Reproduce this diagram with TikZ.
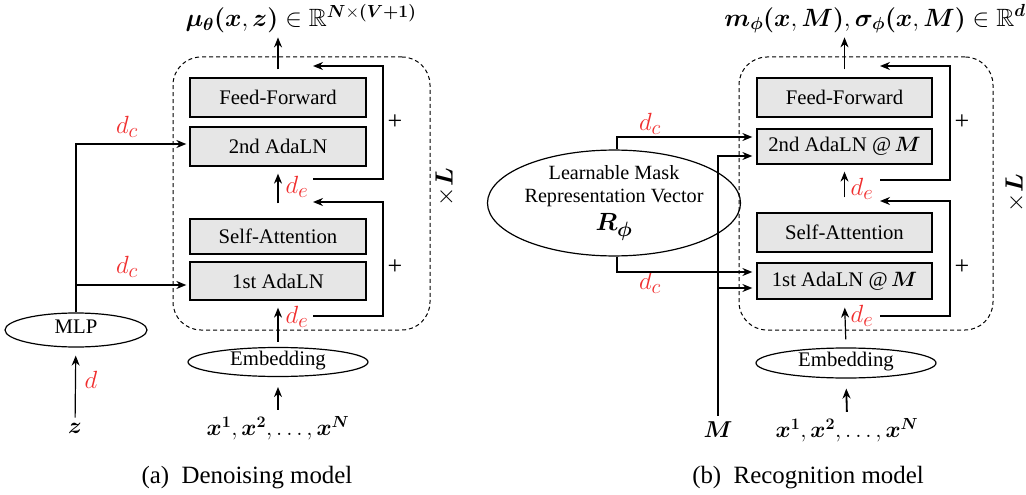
\RequirePackage{fix-cm}
\documentclass[tikz,border=0pt]{standalone}
\usepackage{amsmath,amssymb,bm}
\usepackage[no-math]{fontspec}
\setmainfont{Liberation Serif}
\usetikzlibrary{arrows.meta,shapes.geometric}
\definecolor{lblred}{RGB}{240,45,45}
\definecolor{boxgray}{RGB}{230,230,230}
\newcommand\fsA{\fontsize{20.74}{24}\selectfont}
\newcommand\fsC{\fontsize{24.88}{28}\selectfont}
\newcommand\fsM{\fontsize{23}{26}\selectfont}
\newcommand\fsR{\fontsize{24.88}{28}\selectfont}
\newcommand\fsT{\fontsize{25}{28}\selectfont}
\newcommand\xseq{$\bm{x}^{\bm{1}},\bm{x}^{\bm{2}},\ldots,\bm{x}^{\bm{N}}$}
\tikzset{
  blk/.style={draw, line width=1.3pt, fill=boxgray, inner sep=0pt, font=\fsA},
  ell/.style={draw, ellipse, line width=1.2pt, inner sep=0pt, text height=11pt, text depth=4pt, font=\fsA},
  loopbox/.style={draw, dashed, dash pattern=on 4pt off 3pt, line width=1pt, rounded corners=28pt, inner sep=0pt},
  arr/.style={-{Stealth[length=10pt,width=8pt]}, line width=1.2pt},
  txt/.style={font=\fsM, inner sep=2pt},
  ttl/.style={font=\fsT, inner sep=2pt},
  plus/.style={font=\fontsize{26}{28}\selectfont, inner sep=0pt},
  rlbl/.style={font=\fsR, text=lblred, inner sep=0pt},
  captxt/.style={font=\fsC, inner sep=0pt}
}
\begin{document}
\begin{tikzpicture}[x=1pt,y=-1pt]
\useasboundingbox (0,0) rectangle (1026,495);
% ================= (a) =================
\node[loopbox, minimum width=257, minimum height=273] (loopa) at (301.5,193.5) {};
\node[blk, minimum width=176, minimum height=39] (ffa) at (278,97.5) {Feed-Forward};
\node[blk, minimum width=176, minimum height=39] (ada2) at (278,146.5) {2nd AdaLN};
\node[blk, minimum width=176, minimum height=35] (saa) at (278,236.5) {Self-Attention};
\node[blk, minimum width=176, minimum height=38] (ada1) at (278,281) {1st AdaLN};
\node[ell, minimum width=180, minimum height=29] (emba) at (278,362) {Embedding};
\node[ell, minimum width=142, minimum height=34] (mlp) at (76,330) {MLP};
\node[txt] (za) at (75,428) {$\bm{z}$};
\node[txt] (xa) at (278,428) {\xseq};
\node[ttl] (outa) at (301,19) {$\bm{\mu}_{\bm{\theta}}\bm{(}\bm{x},\bm{z}\bm{)}\in\mathbb{R}^{\bm{N}\times\bm{(}\bm{V}\bm{+}\bm{1}\bm{)}}$};
\node[rlbl] (da) at (91,380) {$d$};
\node[rlbl] (dca2) at (127,127) {$d_c$};
\node[rlbl] (dca1) at (127,267) {$d_c$};
\node[rlbl] (dea2) at (297,187) {$d_e$};
\node[rlbl] (dea1) at (297,317) {$d_e$};
\node[plus] (pa2) at (395,122) {+};
\node[plus] (pa1) at (395,267) {+};
\node[txt, font=\fsR, rotate=90] (La) at (445,187) {$\times\bm{L}$};
\node[captxt] (capa) at (247,478) {(a)\enspace Denoising model};
\coordinate (ra1) at (313,179); \coordinate (ra1e) at (313,66);
\coordinate (ra2) at (313,316); \coordinate (ra2e) at (313,202);
\draw[arr, shorten <=3pt, shorten >=8pt] (za) -- (mlp);
\draw[arr, shorten >=3pt] (mlp.north) |- ([yshift=2.5pt]ada2.west);
\draw[arr, shorten >=3pt] ([yshift=-4pt]ada1.west -| mlp.north) -- ([yshift=-4pt]ada1.west);
\draw[arr, shorten <=15pt, shorten >=7pt] (saa.north) -- (ada2.south);
\draw[arr, shorten <=5pt, shorten >=7pt] (emba.north) -- (ada1.south);
\draw[arr, shorten <=8pt, shorten >=2pt] (ffa.north) -- (ffa.north |- outa.south);
\draw[arr, shorten <=4pt, shorten >=10pt] (xa.north) -- (emba.south);
\draw[arr] (ra1) -- ++(70,0) |- (ra1e);
\draw[arr] (ra2) -- ++(70,0) |- (ra2e);
% ================= (b) =================
\node[loopbox, minimum width=254, minimum height=273] (loopb) at (866,193.5) {};
\node[blk, minimum width=175, minimum height=39] (ffb) at (844.5,97.5) {Feed-Forward};
\node[blk, minimum width=175, minimum height=35] (adb2) at (844.5,146.5) {2nd AdaLN @\,$\bm{M}$};
\node[blk, minimum width=175, minimum height=39] (sab) at (844.5,232.5) {Self-Attention};
\node[blk, minimum width=175, minimum height=36] (adb1) at (844.5,281) {1st AdaLN @\,$\bm{M}$};
\node[ell, minimum width=180, minimum height=30] (embb) at (846,363) {Embedding};
\node[draw, ellipse, line width=1.2pt, inner sep=0pt, minimum width=198, minimum height=96, font=\fontsize{20.2}{24}\selectfont, align=center] (rphi) at (614,203)
  {Learnable Mask\\[-1pt]Representation Vector\\[4pt]{\fsR$\bm{R}_{\bm{\phi}}$}};
\node[txt] (Mb) at (718,430) {$\bm{M}$};
\node[txt] (xb) at (847,430) {\xseq};
\node[ttl] (outb) at (875,19) {$\bm{m}_{\bm{\phi}}\bm{(}\bm{x},\bm{M}\bm{)},\bm{\sigma}_{\bm{\phi}}\bm{(}\bm{x},\bm{M}\bm{)}\in\mathbb{R}^{\bm{d}}$};
\node[rlbl] (dcb2) at (650,124) {$d_c$};
\node[rlbl] (dcb1) at (650,283) {$d_c$};
\node[rlbl] (deb2) at (862,189) {$d_e$};
\node[rlbl] (deb1) at (862,316) {$d_e$};
\node[plus] (pb2) at (962,122) {+};
\node[plus] (pb1) at (962,267) {+};
\node[txt, font=\fsR, rotate=90] (Lb) at (1015,193) {$\times\bm{L}$};
\node[captxt] (capb) at (808,478) {(b)\enspace Recognition model};
\coordinate (rb1) at (880,180); \coordinate (rb1e) at (880,66);
\coordinate (rb2) at (880,316); \coordinate (rb2e) at (880,201);
\draw[arr, shorten >=4pt] ([xshift=3pt]rphi.north) |- ([yshift=9.5pt]adb2.west);
\draw[arr, shorten >=4pt] ([xshift=3pt]rphi.south) |- ([yshift=9pt]adb1.west);
\draw[arr, shorten <=4pt, shorten >=4pt] (Mb.north) |- ([yshift=-9.5pt]adb2.west);
\draw[arr, shorten >=4pt] ([yshift=-7pt]adb1.west -| Mb.north) -- ([yshift=-7pt]adb1.west);
\draw[arr, shorten <=15pt, shorten >=7pt] (sab.north) -- (adb2.south);
\draw[arr, shorten <=8pt, shorten >=8pt] (embb.north) -- (adb1.south);
\draw[arr, shorten <=8pt, shorten >=2pt] (ffb.north) -- (ffb.north |- outb.south);
\draw[arr, line width=1.8pt, shorten <=4pt, shorten >=10pt] (xb.north) -- (embb.south);
\draw[arr] (rb1) -- ++(70,0) |- (rb1e);
\draw[arr] (rb2) -- ++(70,0) |- (rb2e);
\end{tikzpicture}
\end{document}
